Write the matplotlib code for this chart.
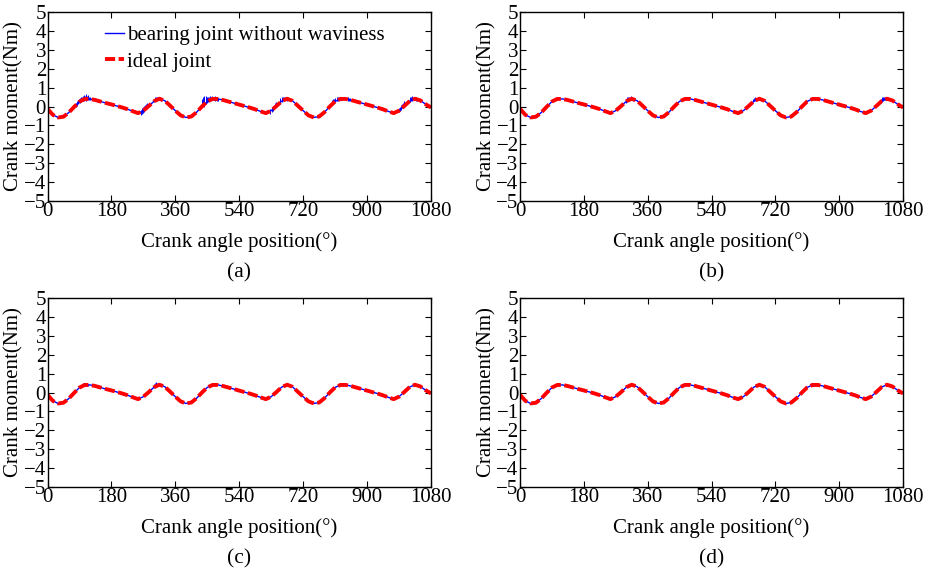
import matplotlib.pyplot as plt
import numpy as np

plt.rcParams['font.family'] = ['Liberation Serif', 'DejaVu Serif']

# crank angle grid (deg) and ideal joint moment (Nm)
angle = [0, 15, 30, 45, 60, 75, 90, 105, 120, 135, 150, 165, 180, 195, 210, 225,
         240, 255, 270, 285, 300, 315, 330, 345,
         360, 375, 390, 405, 420, 435, 450, 465, 480, 495, 510, 525, 540, 555, 570, 585,
         600, 615, 630, 645, 660, 675, 690, 705,
         720, 735, 750, 765, 780, 795, 810, 825, 840, 855, 870, 885, 900, 915, 930, 945,
         960, 975, 990, 1005, 1020, 1035, 1050, 1065, 1080]
ideal = [-0.12, -0.44, -0.58, -0.54, -0.32, -0.02, 0.26, 0.40, 0.40, 0.34, 0.26, 0.18, 0.11, 0.03, -0.05, -0.14,
         -0.25, -0.35, -0.22, 0.02, 0.28, 0.41, 0.31, 0.05,
         -0.22, -0.47, -0.58, -0.53, -0.30, 0.0, 0.27, 0.40, 0.40, 0.34, 0.26, 0.18, 0.10, 0.02, -0.06, -0.15,
         -0.26, -0.35, -0.22, 0.03, 0.29, 0.41, 0.30, 0.04,
         -0.22, -0.47, -0.58, -0.53, -0.30, 0.0, 0.27, 0.40, 0.40, 0.34, 0.26, 0.18, 0.10, 0.02, -0.06, -0.15,
         -0.26, -0.35, -0.22, 0.03, 0.29, 0.41, 0.32, 0.12, -0.05]

# blue noise bursts of the bearing joint: angle, low, high
noise_a_ang = [76, 79, 82, 85, 88, 91, 94, 97, 100, 103, 106, 109, 112, 115, 118, 121, 124,
               262, 265, 268, 271, 274, 277, 280,
               300, 303, 306, 309, 312, 315, 318, 321,
               436, 439, 442, 445, 448, 451, 454, 457, 460, 463, 466, 469, 472, 475, 478, 481,
               628, 631, 634, 637, 640, 643,
               656, 659, 662, 665, 668, 671, 674,
               802, 805, 808, 811, 814, 817, 820, 823, 826, 829, 845, 848, 851,
               990, 993, 996, 999, 1002, 1005, 1020, 1023, 1026, 1029, 1032, 1035, 1038, 1041]
noise_a_lo = [-0.05, 0.0, 0.05, 0.12, 0.18, 0.2, 0.25, 0.28, 0.3, 0.3, 0.32, 0.3, 0.33, 0.32, 0.33, 0.34, 0.32,
              -0.45, -0.4, -0.35, -0.3, -0.2, -0.1, -0.05,
              0.22, 0.28, 0.3, 0.33, 0.34, 0.33, 0.32, 0.28,
              0.05, 0.1, 0.0, 0.15, 0.2, 0.25, 0.28, 0.3, 0.32, 0.33, 0.32, 0.33, 0.3, 0.32, 0.3, 0.28,
              -0.38, -0.3, -0.25, -0.15, -0.08, 0.0,
              0.15, 0.25, 0.28, 0.3, 0.32, 0.33, 0.3,
              0.1, 0.15, 0.2, 0.25, 0.28, 0.3, 0.32, 0.33, 0.32, 0.33, 0.3, 0.3, 0.28,
              -0.3, -0.25, -0.2, -0.1, 0.0, 0.05, 0.25, 0.3, 0.3, 0.32, 0.33, 0.32, 0.3, 0.28]
noise_a_hi = [0.12, 0.2, 0.3, 0.35, 0.42, 0.45, 0.5, 0.48, 0.55, 0.62, 0.58, 0.66, 0.55, 0.6, 0.52, 0.5, 0.45,
              -0.2, -0.1, -0.05, 0.02, 0.08, 0.12, 0.18,
              0.42, 0.48, 0.5, 0.52, 0.5, 0.52, 0.48, 0.42,
              0.4, 0.5, 0.58, 0.55, 0.52, 0.5, 0.52, 0.55, 0.5, 0.55, 0.5, 0.52, 0.55, 0.5, 0.48, 0.45,
              -0.15, -0.05, 0.05, 0.1, 0.2, 0.25,
              0.45, 0.5, 0.48, 0.52, 0.5, 0.48, 0.45,
              0.32, 0.38, 0.42, 0.45, 0.48, 0.5, 0.48, 0.5, 0.48, 0.5, 0.48, 0.45, 0.45,
              -0.1, 0.0, 0.1, 0.15, 0.2, 0.3, 0.5, 0.52, 0.55, 0.52, 0.5, 0.52, 0.48, 0.45]

noise_b_ang = [298, 301, 304, 307, 310, 313, 316, 319,
               658, 661, 664, 667, 670,
               1018, 1021, 1024, 1027, 1030, 1033, 1036]
noise_b_lo = [0.2, 0.25, 0.28, 0.3, 0.33, 0.32, 0.33, 0.3,
              0.22, 0.28, 0.3, 0.32, 0.33,
              0.2, 0.26, 0.3, 0.32, 0.33, 0.33, 0.32]
noise_b_hi = [0.4, 0.48, 0.5, 0.52, 0.5, 0.55, 0.5, 0.45,
              0.42, 0.45, 0.48, 0.46, 0.45,
              0.42, 0.48, 0.52, 0.5, 0.52, 0.5, 0.48]

noise_c_ang = [96, 99, 102, 105, 108, 111, 114,
               300, 303, 306, 309, 312, 315]
noise_c_lo = [0.3, 0.32, 0.33, 0.35, 0.35, 0.36, 0.34,
              0.25, 0.3, 0.32, 0.33, 0.35, 0.33]
noise_c_hi = [0.45, 0.5, 0.48, 0.52, 0.5, 0.48, 0.47,
              0.45, 0.5, 0.55, 0.5, 0.52, 0.5]

noise_d_ang = [820, 823, 826, 829]
noise_d_lo = [0.33, 0.34, 0.35, 0.33]
noise_d_hi = [0.48, 0.5, 0.52, 0.47]

panels = [
    ("(a)", noise_a_ang, noise_a_lo, noise_a_hi),
    ("(b)", noise_b_ang, noise_b_lo, noise_b_hi),
    ("(c)", noise_c_ang, noise_c_lo, noise_c_hi),
    ("(d)", noise_d_ang, noise_d_lo, noise_d_hi),
]

W, H = 934, 576
fig = plt.figure(figsize=(W / 100, H / 100), dpi=100)
boxes = [(47.5, 12, 431, 201), (520, 12, 903, 201),
         (47.5, 298, 431, 487), (520, 298, 903, 487)]

fs = 15
for (tag, n_ang, n_lo, n_hi), (x0, y0, x1, y1) in zip(panels, boxes):
    ax = fig.add_axes([x0 / W, 1 - y1 / H, (x1 - x0) / W, (y1 - y0) / H])
    ax.plot(angle, ideal, color="blue", lw=1.0,
            label="bearing joint without waviness")
    ax.vlines(n_ang, n_lo, n_hi, color="blue", lw=0.7)
    ax.plot(angle, ideal, color="red", lw=2.8, ls=(0, (2.6, 0.9)),
            label="ideal joint")
    ax.set_xlim(0, 1080)
    ax.set_ylim(-5, 5)
    ax.set_xticks(np.arange(0, 1081, 180))
    ax.set_yticks(np.arange(-5, 6, 1))
    ax.tick_params(direction="in", top=True, right=True, length=4,
                   labelsize=fs, pad=1)
    for s in ax.spines.values():
        s.set_linewidth(1.0)
    ax.set_xlabel("Crank angle position(°)", fontsize=fs, labelpad=8)
    ax.set_ylabel("Crank moment(Nm)", fontsize=fs, labelpad=0)
    ax.text(0.5, -0.38, tag, transform=ax.transAxes, ha="center",
            va="center", fontsize=fs + 0.5)
    if tag == "(a)":
        ax.legend(loc="upper left", bbox_to_anchor=(0.15, 0.93),
                  frameon=False, fontsize=fs, handlelength=0.9,
                  handletextpad=0.15, labelspacing=0.35, borderpad=0,
                  borderaxespad=0)

fig.savefig("out.png", dpi=100)
